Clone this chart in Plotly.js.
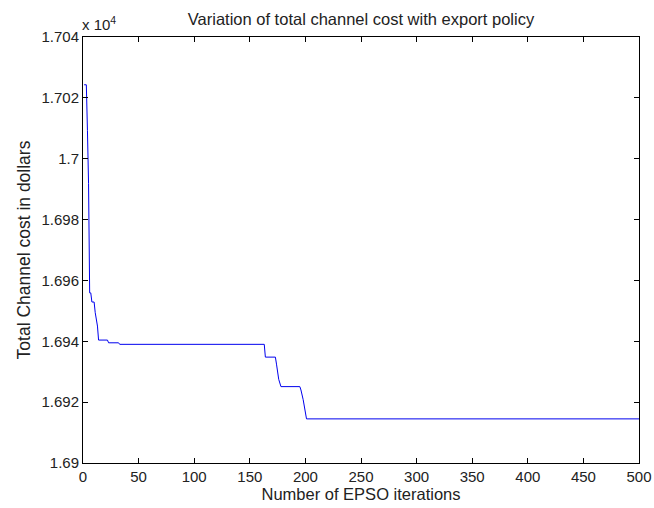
<!DOCTYPE html>
<html>
<head>
<meta charset="utf-8">
<script src="https://cdn.plot.ly/plotly-3.0.1.min.js"></script>
<style>html,body{margin:0;padding:0;background:#fff;}#chart{width:654px;height:508px;}</style>
</head>
<body>
<div id="chart"></div>
<script>
// EPSO iteration number
var iterations = [1, 3, 4, 5, 6, 7, 8, 10, 11, 12, 13, 14, 22, 23, 32, 33, 163, 164, 173, 174, 175, 176, 178, 195, 196, 198, 201, 500];
// Total channel cost in dollars
var costDollars = [17024.3, 17024.3, 17009.3, 16991.8, 16955.9, 16955.9, 16952.9, 16952.9, 16949.4, 16947.5, 16945.0, 16940.4, 16940.4, 16939.5, 16939.5, 16939.0, 16939.0, 16934.8, 16934.8, 16932.5, 16930.0, 16927.5, 16925.1, 16925.1, 16924.0, 16920.8, 16914.5, 16914.5];
var scaleExp = 4;
var xTicks = [0, 50, 100, 150, 200, 250, 300, 350, 400, 450, 500];
var yTicks = [1.69, 1.692, 1.694, 1.696, 1.698, 1.7, 1.702, 1.704];
var yTickText = ['1.69', '1.692', '1.694', '1.696', '1.698', '1.7', '1.702', '1.704'];

var scale = Math.pow(10, scaleExp);
var yPlot = costDollars.map(function (v) { return v / scale; });

var fontFam = '"Liberation Sans", Arial, Helvetica, sans-serif';
var trace = {
  x: iterations, y: yPlot, type: 'scatter', mode: 'lines',
  line: {color: '#0000ee', width: 1}, hoverinfo: 'skip'
};
var axisCommon = {
  showgrid: false, zeroline: false, showline: true, linecolor: '#000', linewidth: 1,
  mirror: 'ticks', ticks: 'inside', ticklen: 5, tickcolor: '#000', tickwidth: 1,
  tickfont: {family: fontFam, size: 15, color: '#222'}
};
var layout = {
  width: 654, height: 508,
  margin: {l: 83, r: 15, t: 37, b: 45, pad: 0},
  paper_bgcolor: '#fff', plot_bgcolor: '#fff',
  showlegend: false,
  font: {family: fontFam, color: '#222'},
  title: {text: 'Variation of total channel cost with export policy', xref: 'paper', x: 0.5, xanchor: 'center', y: 0.963, yanchor: 'middle', font: {family: fontFam, size: 16.5, color: '#222'}},
  xaxis: Object.assign({}, axisCommon, {
    range: [0, 500], tickmode: 'array', tickvals: xTicks, ticktext: xTicks.map(String),
    title: {text: 'Number of EPSO iterations', font: {family: fontFam, size: 16.5, color: '#222'}, standoff: 2}
  }),
  yaxis: Object.assign({}, axisCommon, {
    range: [1.69, 1.704], tickmode: 'array', tickvals: yTicks, ticktext: yTickText,
    title: {text: 'Total Channel cost in dollars', font: {family: fontFam, size: 17.5, color: '#222'}, standoff: 6}
  }),
  annotations: [{
    text: 'x 10<sup>' + scaleExp + '</sup>', xref: 'paper', yref: 'paper', x: 0, y: 1, xanchor: 'left', yanchor: 'bottom',
    xshift: -3, yshift: 2, showarrow: false, font: {family: fontFam, size: 15, color: '#222'}
  }]
};
Plotly.newPlot('chart', [trace], layout, {displayModeBar: false, staticPlot: true});
</script>
</body>
</html>
